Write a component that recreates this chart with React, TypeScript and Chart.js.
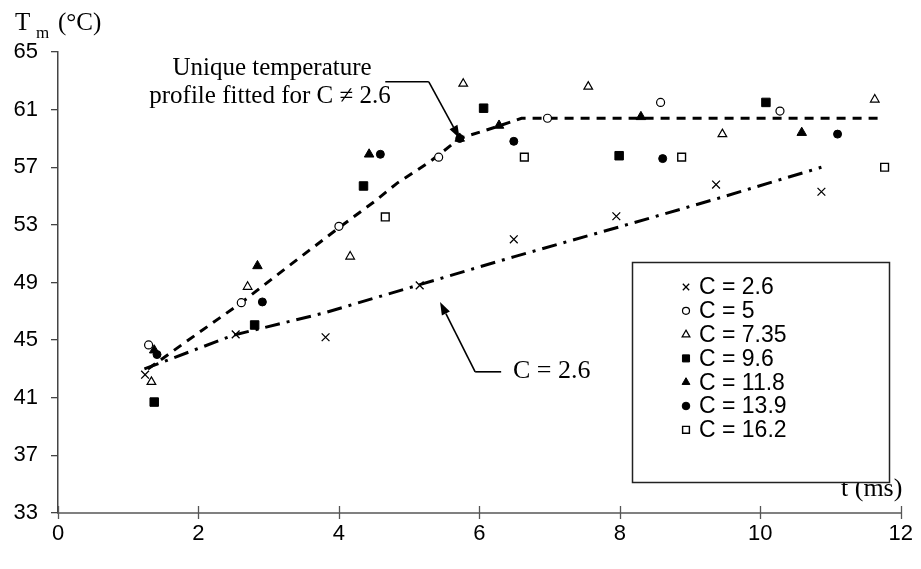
import React, { useEffect, useRef } from "react";
import { Chart, registerables } from "chart.js";
import { drawPoint } from "chart.js/helpers";

Chart.register(...registerables);

// ---- data ----
const xTicks = [0, 2, 4, 6, 8, 10, 12];
const yTicks = [33, 37, 41, 45, 49, 53, 57, 61, 65];

const c26T = [1.24, 2.53, 3.81, 5.15, 6.49, 7.95, 9.37, 10.87];
const c26V = [42.6, 45.4, 45.2, 48.8, 52.0, 53.6, 55.8, 55.3];

const c5T = [1.29, 2.61, 4.0, 5.42, 6.97, 8.58, 10.28];
const c5V = [44.67, 47.6, 52.9, 57.7, 60.4, 61.5, 60.9];

const c735T = [1.33, 2.7, 4.16, 5.77, 7.55, 9.46, 11.63];
const c735V = [42.1, 48.7, 50.8, 62.8, 62.6, 59.3, 61.7];

const c96T = [1.37, 2.8, 4.35, 6.06, 7.99, 10.08];
const c96V = [40.7, 46.05, 55.7, 61.1, 57.8, 61.5];

const c118T = [1.37, 2.84, 4.43, 5.72, 6.28, 8.3, 10.59];
const c118V = [44.3, 50.15, 57.9, 59.0, 59.9, 60.5, 59.4];

const c139T = [1.41, 2.91, 4.59, 5.72, 6.49, 8.61, 11.1];
const c139V = [44.0, 47.65, 57.9, 59.0, 58.8, 57.6, 59.3];

const c162T = [4.66, 6.64, 8.88, 11.77];
const c162V = [53.55, 57.7, 57.7, 57.0];

// fitted profile for C != 2.6 (dashed)
const fitAllT = [1.28, 2.0, 2.61, 3.3, 4.0, 4.5, 4.83, 5.3, 5.72, 6.24, 6.6, 7.0, 8.0, 9.0, 10.0, 11.0, 11.72];
const fitAllV = [43.0, 45.5, 47.6, 50.2, 52.8, 54.6, 55.9, 57.4, 59.0, 59.8, 60.4, 60.4, 60.4, 60.4, 60.4, 60.4, 60.4];

// fitted profile for C = 2.6 (dash-dot)
const fit26T = [1.23, 2.5, 3.8, 5.15, 6.5, 7.95, 9.37, 10.87];
const fit26V = [43.0, 45.35, 46.9, 48.85, 50.8, 52.8, 54.8, 57.0];

const seriesLabels = ["C = 2.6", "C = 5", "C = 7.35", "C = 9.6", "C = 11.8", "C = 13.9", "C = 16.2"];

const toXY = (xs: number[], ys: number[]) => xs.map((x, i) => ({ x, y: ys[i] }));

const SERIF = "'Liberation Serif', 'Times New Roman', serif";
const SANS = "'Liberation Sans', Arial, sans-serif";

function arrowTo(ctx: CanvasRenderingContext2D, fx: number, fy: number, tx: number, ty: number) {
  const ang = Math.atan2(ty - fy, tx - fx);
  const len = 13;
  const hw = 4.5;
  const bx = tx - len * Math.cos(ang);
  const by = ty - len * Math.sin(ang);
  ctx.beginPath();
  ctx.moveTo(fx, fy);
  ctx.lineTo(bx, by);
  ctx.stroke();
  ctx.beginPath();
  ctx.moveTo(tx, ty);
  ctx.lineTo(bx + hw * Math.sin(ang), by - hw * Math.cos(ang));
  ctx.lineTo(bx - hw * Math.sin(ang), by + hw * Math.cos(ang));
  ctx.closePath();
  ctx.fill();
}

const decorPlugin = {
  id: "decor",
  afterDraw(chart: any) {
    const ctx: CanvasRenderingContext2D = chart.ctx;
    const xs = chart.scales.x;
    const ys = chart.scales.y;
    const X = (v: number) => xs.getPixelForValue(v);
    const Y = (v: number) => ys.getPixelForValue(v);
    ctx.save();

    // x ticks (crossing the axis line)
    ctx.strokeStyle = "#555";
    ctx.lineWidth = 1.3;
    const yb = chart.chartArea.bottom;
    xTicks.forEach((t) => {
      const px = Math.round(X(t)) + 0.5;
      ctx.beginPath();
      ctx.moveTo(px, yb - 7);
      ctx.lineTo(px, yb + 6);
      ctx.stroke();
    });

    // axis titles
    ctx.fillStyle = "#000";
    ctx.textBaseline = "alphabetic";
    ctx.textAlign = "left";
    ctx.font = `25px ${SERIF}`;
    ctx.fillText("T", 15, 30);
    ctx.font = `17px ${SERIF}`;
    ctx.fillText("m", 36, 38);
    ctx.font = `25px ${SERIF}`;
    ctx.fillText("(°C)", 58, 30);

    ctx.textBaseline = "middle";
    ctx.font = `26px ${SERIF}`;
    ctx.fillText("t (ms)", 841, 489);

    // annotation: unique profile
    ctx.textAlign = "center";
    ctx.font = `25px ${SERIF}`;
    ctx.fillText("Unique temperature", 272, 68);
    ctx.fillText("profile fitted for C \u2260 2.6", 270, 96);

    ctx.strokeStyle = "#000";
    ctx.fillStyle = "#000";
    ctx.lineWidth = 1.6;
    const a1x = X(4.66), a1y = Y(62.93), a2x = X(5.28);
    ctx.beginPath();
    ctx.moveTo(a1x, a1y);
    ctx.lineTo(a2x, a1y);
    ctx.stroke();
    arrowTo(ctx, a2x, a1y, X(5.72), Y(59.0));

    // annotation: C = 2.6
    const b1x = X(5.94), b1y = Y(42.8), b2x = X(6.31);
    ctx.beginPath();
    ctx.moveTo(b1x, b1y);
    ctx.lineTo(b2x, b1y);
    ctx.stroke();
    arrowTo(ctx, b1x, b1y, X(5.44), Y(47.65));
    ctx.textAlign = "left";
    ctx.font = `26px ${SERIF}`;
    ctx.fillText("C = 2.6", 513, 371);

    // legend box
    const lx = 632, ly = 262, lw = 257, lh = 220;
    ctx.fillStyle = "#fff";
    ctx.fillRect(lx, ly, lw, lh);
    ctx.strokeStyle = "#222";
    ctx.lineWidth = 1.5;
    ctx.strokeRect(lx + 0.5, ly + 0.5, lw, lh);

    const markerDs = chart.data.datasets.filter((d: any) => d.inLegend);
    markerDs.forEach((d: any, i: number) => {
      const cy = 287 + i * 23.8;
      ctx.save();
      ctx.fillStyle = d.backgroundColor;
      ctx.strokeStyle = d.borderColor;
      ctx.lineWidth = d.borderWidth;
      drawPoint(ctx, { pointStyle: d.pointStyle, radius: d.legendRadius, rotation: 0, borderWidth: d.borderWidth }, 686, cy);
      ctx.restore();
      ctx.fillStyle = "#000";
      ctx.font = `23px ${SANS}`;
      ctx.textBaseline = "middle";
      ctx.fillText(d.label, 699, cy + 1);
    });

    ctx.restore();
  },
};

function markerSet(label: string, xs: number[], ys: number[], style: string, radius: number, fill: string, bw: number, legendRadius: number) {
  return {
    type: "scatter",
    label,
    data: toXY(xs, ys),
    pointStyle: style,
    pointRadius: radius,
    pointHoverRadius: radius,
    backgroundColor: fill,
    borderColor: "#000",
    borderWidth: bw,
    pointBorderWidth: bw,
    showLine: false,
    inLegend: true,
    legendRadius,
    order: 1,
  } as any;
}

export default function App() {
  const ref = useRef<HTMLCanvasElement | null>(null);

  useEffect(() => {
    if (!ref.current) return;
    const chart = new Chart(ref.current, {
      type: "scatter",
      data: {
        datasets: [
          {
            type: "line",
            label: "fitAll",
            data: toXY(fitAllT, fitAllV),
            borderColor: "#000",
            borderWidth: 3,
            borderDash: [9, 7],
            pointRadius: 0,
            fill: false,
            tension: 0,
            order: 2,
          } as any,
          {
            type: "line",
            label: "fit26",
            data: toXY(fit26T, fit26V),
            borderColor: "#000",
            borderWidth: 3,
            borderDash: [15, 7, 3, 7],
            pointRadius: 0,
            fill: false,
            tension: 0,
            order: 2,
          } as any,
          markerSet(seriesLabels[0], c26T, c26V, "crossRot", 5.5, "#000", 1.3, 4.5),
          markerSet(seriesLabels[1], c5T, c5V, "circle", 4, "#fff", 1.2, 3.5),
          markerSet(seriesLabels[2], c735T, c735V, "triangle", 5, "#fff", 1.2, 4.5),
          markerSet(seriesLabels[3], c96T, c96V, "rect", 6, "#000", 1, 5),
          markerSet(seriesLabels[4], c118T, c118V, "triangle", 5.5, "#000", 1, 4.5),
          markerSet(seriesLabels[5], c139T, c139V, "circle", 4, "#000", 1, 3.8),
          markerSet(seriesLabels[6], c162T, c162V, "rect", 5.5, "#fff", 1.4, 4.8),
        ],
      },
      options: {
        responsive: false,
        animation: false,
        devicePixelRatio: 1,
        layout: { padding: { top: 52, right: 13, left: 0, bottom: 0 } },
        plugins: { legend: { display: false }, tooltip: { enabled: false } },
        scales: {
          x: {
            type: "linear",
            min: 0,
            max: 12,
            afterBuildTicks: (s: any) => {
              s.ticks = xTicks.map((v) => ({ value: v }));
            },
            afterFit: (s: any) => {
              s.height = 56;
            },
            grid: { display: true, drawOnChartArea: false, drawTicks: false },
            border: { display: true, color: "#808080", width: 2 },
            ticks: { color: "#000", padding: 8, font: { family: SANS, size: 22 }, maxRotation: 0 },
          },
          y: {
            type: "linear",
            min: 33,
            max: 65,
            afterBuildTicks: (s: any) => {
              s.ticks = yTicks.map((v) => ({ value: v }));
            },
            afterFit: (s: any) => {
              s.width = 58;
            },
            grid: { display: true, drawOnChartArea: false, drawTicks: true, tickLength: 7, color: "#444", lineWidth: 1.3 },
            border: { display: true, color: "#444", width: 1.5 },
            ticks: { color: "#000", padding: 13, font: { family: SANS, size: 22 } },
          },
        },
      },
      plugins: [decorPlugin],
    } as any);
    return () => chart.destroy();
  }, []);

  return (
    <div style={{ position: "fixed", left: 0, top: 0, width: 921, height: 569, background: "#fff" }}>
      <canvas ref={ref} width={921} height={569} style={{ width: 921, height: 569, display: "block" }} />
    </div>
  );
}
